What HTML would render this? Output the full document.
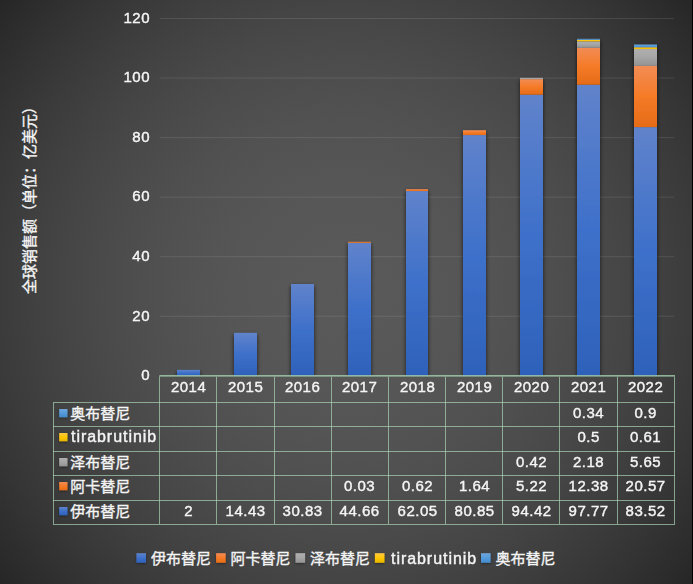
<!DOCTYPE html>
<html lang="zh-CN">
<head>
<meta charset="utf-8">
<title>全球销售额（单位：亿美元）</title>
<style>
html,body{margin:0;padding:0;background:#262626;}
body{width:693px;height:584px;overflow:hidden;font-family:"Liberation Sans",sans-serif;}
#chart{position:relative;width:693px;height:584px;overflow:hidden;
 background:radial-gradient(circle farthest-corner at 346px 292px,rgb(89.0,89.0,89.0) 0.00%,rgb(88.8,88.8,88.8) 6.25%,rgb(88.2,88.2,88.2) 12.50%,rgb(87.2,87.2,87.2) 18.75%,rgb(85.8,85.8,85.8) 25.00%,rgb(84.0,84.0,84.0) 31.25%,rgb(81.8,81.8,81.8) 37.50%,rgb(79.2,79.2,79.2) 43.75%,rgb(76.2,76.2,76.2) 50.00%,rgb(72.9,72.9,72.9) 56.25%,rgb(69.1,69.1,69.1) 62.50%,rgb(64.9,64.9,64.9) 68.75%,rgb(60.3,60.3,60.3) 75.00%,rgb(55.3,55.3,55.3) 81.25%,rgb(50.0,50.0,50.0) 87.50%,rgb(44.2,44.2,44.2) 93.75%,rgb(38.0,38.0,38.0) 100.00%);}
#chart::after{content:"";position:absolute;right:0;top:0;width:1px;height:584px;background:#000;}
#chart svg{position:absolute;left:0;top:0;}
.t{position:absolute;margin:0;color:#f5f5f5;font-size:15.0px;line-height:20px;height:20px;white-space:nowrap;font-weight:400;-webkit-text-stroke:0.4px #f5f5f5;will-change:transform;letter-spacing:0.5px;}
.yl{left:100px;width:50px;text-align:right;}
.c{text-align:center;width:57.22px;margin-left:0.2px;}
.cj{fill:#f5f5f5;stroke:#f5f5f5;stroke-width:0.36;font-family:"Liberation Sans","Noto Sans CJK SC",sans-serif;font-size:15px;}
.lat{letter-spacing:0.95px;font-size:16px;}

</style>
</head>
<body>
<div id="chart">
<svg width="693" height="584" viewBox="0 0 693 584">
<defs>
<linearGradient id="a1" x1="0" y1="0" x2="0" y2="1"><stop offset="0" stop-color="#6083CB"/><stop offset="0.5" stop-color="#3E70CA"/><stop offset="1" stop-color="#2E61BA"/></linearGradient>
<linearGradient id="a2" x1="0" y1="0" x2="0" y2="1"><stop offset="0" stop-color="#F18C55"/><stop offset="0.5" stop-color="#F67B28"/><stop offset="1" stop-color="#E56B17"/></linearGradient>
<linearGradient id="a3" x1="0" y1="0" x2="0" y2="1"><stop offset="0" stop-color="#AFAFAF"/><stop offset="0.5" stop-color="#A5A5A5"/><stop offset="1" stop-color="#929292"/></linearGradient>
<linearGradient id="a4" x1="0" y1="0" x2="0" y2="1"><stop offset="0" stop-color="#FFC746"/><stop offset="0.5" stop-color="#FFC600"/><stop offset="1" stop-color="#E5B600"/></linearGradient>
<linearGradient id="a5" x1="0" y1="0" x2="0" y2="1"><stop offset="0" stop-color="#71A6DB"/><stop offset="0.5" stop-color="#559BDB"/><stop offset="1" stop-color="#438AC9"/></linearGradient>
<filter id="sh" x="-60%" y="-20%" width="220%" height="140%"><feGaussianBlur in="SourceAlpha" stdDeviation="2"/><feOffset dx="0" dy="1.5"/><feComponentTransfer><feFuncA type="linear" slope="0.7"/></feComponentTransfer><feMerge><feMergeNode/><feMergeNode in="SourceGraphic"/></feMerge></filter>
<filter id="shs" x="-80%" y="-80%" width="260%" height="260%"><feGaussianBlur in="SourceAlpha" stdDeviation="1.2"/><feOffset dx="0" dy="1"/><feComponentTransfer><feFuncA type="linear" slope="0.4"/></feComponentTransfer><feMerge><feMergeNode/><feMergeNode in="SourceGraphic"/></feMerge></filter>
</defs>
<g stroke="rgba(222,245,230,0.115)" stroke-width="1" fill="none">
<line x1="160" y1="316.25" x2="674" y2="316.25"/>
<line x1="160" y1="256.7" x2="674" y2="256.7"/>
<line x1="160" y1="197.15" x2="674" y2="197.15"/>
<line x1="160" y1="137.6" x2="674" y2="137.6"/>
<line x1="160" y1="78.05" x2="674" y2="78.05"/>
<line x1="160" y1="18.5" x2="674" y2="18.5"/>
</g>
<clipPath id="pc"><rect x="140" y="0" width="554" height="375.8"/></clipPath>
<g clip-path="url(#pc)">
<g filter="url(#sh)"><rect x="177" y="369.85" width="23" height="5.95" fill="url(#a1)"/></g>
<g filter="url(#sh)"><rect x="234" y="332.83" width="23" height="42.97" fill="url(#a1)"/></g>
<g filter="url(#sh)"><rect x="291" y="284" width="23" height="91.8" fill="url(#a1)"/></g>
<g filter="url(#sh)"><rect x="348" y="242.82" width="23" height="132.98" fill="url(#a1)"/><rect x="348" y="241.82" width="23" height="1" fill="url(#a2)"/></g>
<g filter="url(#sh)"><rect x="406" y="191.05" width="22" height="184.75" fill="url(#a1)"/><rect x="406" y="189.2" width="22" height="1.85" fill="url(#a2)"/></g>
<g filter="url(#sh)"><rect x="463" y="135.07" width="23" height="240.73" fill="url(#a1)"/><rect x="463" y="130.19" width="23" height="4.88" fill="url(#a2)"/></g>
<g filter="url(#sh)"><rect x="520" y="94.66" width="23" height="281.14" fill="url(#a1)"/><rect x="520" y="79.12" width="23" height="15.54" fill="url(#a2)"/><rect x="520" y="77.87" width="23" height="1.25" fill="url(#a3)"/></g>
<g filter="url(#sh)"><rect x="577" y="84.69" width="23" height="291.11" fill="url(#a1)"/><rect x="577" y="47.83" width="23" height="36.86" fill="url(#a2)"/><rect x="577" y="41.34" width="23" height="6.49" fill="url(#a3)"/><rect x="577" y="39.85" width="23" height="1.49" fill="url(#a4)"/><rect x="577" y="38.84" width="23" height="1.01" fill="url(#a5)"/></g>
<g filter="url(#sh)"><rect x="634" y="127.12" width="23" height="248.68" fill="url(#a1)"/><rect x="634" y="65.87" width="23" height="61.25" fill="url(#a2)"/><rect x="634" y="49.05" width="23" height="16.82" fill="url(#a3)"/><rect x="634" y="47.23" width="23" height="1.82" fill="url(#a4)"/><rect x="634" y="44.55" width="23" height="2.68" fill="url(#a5)"/></g>
</g>
<g stroke="rgba(171,215,181,0.69)" stroke-width="1.0" fill="none">
<line x1="159.5" y1="375.5" x2="675" y2="375.5"/>
<line x1="159" y1="376.2" x2="675" y2="376.2"/>
<line x1="53" y1="402.5" x2="675" y2="402.5"/>
<line x1="53" y1="426.5" x2="675" y2="426.5"/>
<line x1="53" y1="451.5" x2="675" y2="451.5"/>
<line x1="53" y1="475.5" x2="675" y2="475.5"/>
<line x1="53" y1="500.5" x2="675" y2="500.5"/>
<line x1="53" y1="524.5" x2="675" y2="524.5"/>
<line x1="53.5" y1="403" x2="53.5" y2="524"/>
<line x1="159.5" y1="376.7" x2="159.5" y2="524"/>
<line x1="216.5" y1="376.7" x2="216.5" y2="524"/>
<line x1="274.5" y1="376.7" x2="274.5" y2="524"/>
<line x1="331.5" y1="376.7" x2="331.5" y2="524"/>
<line x1="388.5" y1="376.7" x2="388.5" y2="524"/>
<line x1="445.5" y1="376.7" x2="445.5" y2="524"/>
<line x1="502.5" y1="376.7" x2="502.5" y2="524"/>
<line x1="559.5" y1="376.7" x2="559.5" y2="524"/>
<line x1="617.5" y1="376.7" x2="617.5" y2="524"/>
<line x1="674.5" y1="376.7" x2="674.5" y2="524"/>
</g>
<rect x="59.2" y="409" width="8.3" height="8.3" fill="url(#a5)" filter="url(#shs)"/>
<text class="cj" x="70.3" y="419.4">奥布替尼</text>
<rect x="59.2" y="433" width="8.3" height="8.3" fill="url(#a4)" filter="url(#shs)"/>
<rect x="59.2" y="458" width="8.3" height="8.3" fill="url(#a3)" filter="url(#shs)"/>
<text class="cj" x="70.3" y="468.4">泽布替尼</text>
<rect x="59.2" y="482" width="8.3" height="8.3" fill="url(#a2)" filter="url(#shs)"/>
<text class="cj" x="70.3" y="492.4">阿卡替尼</text>
<rect x="59.2" y="507" width="8.3" height="8.3" fill="url(#a1)" filter="url(#shs)"/>
<text class="cj" x="70.3" y="517.4">伊布替尼</text>
<rect x="136.4" y="553.2" width="9.6" height="9.6" fill="url(#a1)" filter="url(#shs)"/>
<text class="cj" x="150.9" y="564">伊布替尼</text>
<rect x="216.1" y="553.2" width="9.6" height="9.6" fill="url(#a2)" filter="url(#shs)"/>
<text class="cj" x="230.6" y="564">阿卡替尼</text>
<rect x="295.5" y="553.2" width="9.6" height="9.6" fill="url(#a3)" filter="url(#shs)"/>
<text class="cj" x="310" y="564">泽布替尼</text>
<rect x="374.9" y="553.2" width="9.6" height="9.6" fill="url(#a4)" filter="url(#shs)"/>
<rect x="481" y="553.2" width="9.6" height="9.6" fill="url(#a5)" filter="url(#shs)"/>
<text class="cj" x="495.5" y="564">奥布替尼</text>
<text class="cj" transform="translate(34.8 293.9) rotate(-90)" x="0" y="0">全球销售额（单位：亿美元）</text>
</svg>
<div class="t yl" style="top:365.1px">0</div>
<div class="t yl" style="top:305.55px">20</div>
<div class="t yl" style="top:246px">40</div>
<div class="t yl" style="top:186.45px">60</div>
<div class="t yl" style="top:126.9px">80</div>
<div class="t yl" style="top:67.35px">100</div>
<div class="t yl" style="top:7.8px">120</div>
<div class="t c" style="left:159.5px;top:376.8px">2014</div>
<div class="t c" style="left:216.72px;top:376.8px">2015</div>
<div class="t c" style="left:273.94px;top:376.8px">2016</div>
<div class="t c" style="left:331.17px;top:376.8px">2017</div>
<div class="t c" style="left:388.39px;top:376.8px">2018</div>
<div class="t c" style="left:445.61px;top:376.8px">2019</div>
<div class="t c" style="left:502.83px;top:376.8px">2020</div>
<div class="t c" style="left:560.06px;top:376.8px">2021</div>
<div class="t c" style="left:617.28px;top:376.8px">2022</div>
<div class="t c" style="left:560.06px;top:403px">0.34</div>
<div class="t c" style="left:617.28px;top:403px">0.9</div>
<div class="t lat" style="left:71px;top:427.1px">tirabrutinib</div>
<div class="t c" style="left:560.06px;top:427px">0.5</div>
<div class="t c" style="left:617.28px;top:427px">0.61</div>
<div class="t c" style="left:502.83px;top:452px">0.42</div>
<div class="t c" style="left:560.06px;top:452px">2.18</div>
<div class="t c" style="left:617.28px;top:452px">5.65</div>
<div class="t c" style="left:331.17px;top:476px">0.03</div>
<div class="t c" style="left:388.39px;top:476px">0.62</div>
<div class="t c" style="left:445.61px;top:476px">1.64</div>
<div class="t c" style="left:502.83px;top:476px">5.22</div>
<div class="t c" style="left:560.06px;top:476px">12.38</div>
<div class="t c" style="left:617.28px;top:476px">20.57</div>
<div class="t c" style="left:159.5px;top:501px">2</div>
<div class="t c" style="left:216.72px;top:501px">14.43</div>
<div class="t c" style="left:273.94px;top:501px">30.83</div>
<div class="t c" style="left:331.17px;top:501px">44.66</div>
<div class="t c" style="left:388.39px;top:501px">62.05</div>
<div class="t c" style="left:445.61px;top:501px">80.85</div>
<div class="t c" style="left:502.83px;top:501px">94.42</div>
<div class="t c" style="left:560.06px;top:501px">97.77</div>
<div class="t c" style="left:617.28px;top:501px">83.52</div>
<div class="t lat" style="left:390.5px;top:548.9px">tirabrutinib</div>
</div>
</body>
</html>
